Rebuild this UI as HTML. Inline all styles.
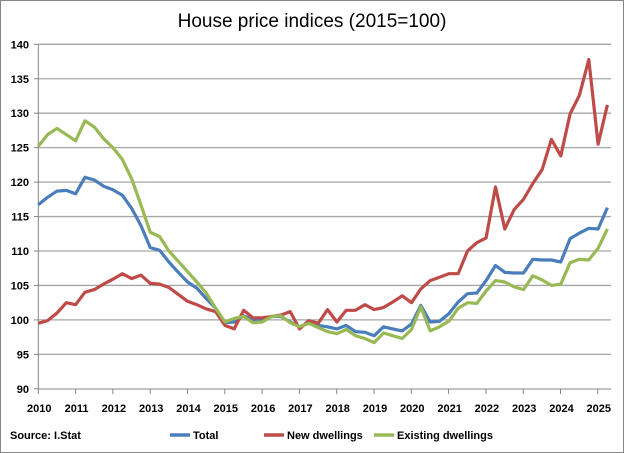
<!DOCTYPE html>
<html><head><meta charset="utf-8"><style>
body{margin:0;background:#fff}
svg{display:block;font-family:"Liberation Sans",sans-serif}
</style></head><body>
<svg id="c" width="624" height="453" viewBox="0 0 624 453" xmlns="http://www.w3.org/2000/svg">
<rect x="0.5" y="0.5" width="623" height="452" fill="#fff" stroke="#868686"/>
<text x="312" y="27" text-anchor="middle" font-size="19" fill="#000">House price indices (2015=100)</text>
<g id="grid"></g>
<g id="lines" fill="none" stroke-width="3.2" stroke-linejoin="round"></g>
<g font-size="11" font-weight="bold" fill="#000">
<text x="10" y="439">Source: I.Stat</text>
<line x1="170" y1="435" x2="190" y2="435" stroke="#4a7ebb" stroke-width="3.5"/>
<text x="193" y="439">Total</text>
<line x1="264" y1="435" x2="284" y2="435" stroke="#be4b48" stroke-width="3.5"/>
<text x="287" y="439">New dwellings</text>
<line x1="374" y1="435" x2="394" y2="435" stroke="#98b954" stroke-width="3.5"/>
<text x="397" y="439">Existing dwellings</text>
</g>
</svg>
<script>
const NS="http://www.w3.org/2000/svg";
const y=v=>44.3+(140-v)*6.89, x=i=>38.3+9.33*i;
const g=document.getElementById('grid');
function el(t,a,p){const e=document.createElementNS(NS,t);for(const k in a)e.setAttribute(k,a[k]);(p||g).appendChild(e);return e;}
for(let v=90;v<=140;v+=5){
 if(v>90)el('line',{x1:38.3,x2:611,y1:y(v),y2:y(v),stroke:'#a6a6a6','stroke-width':1.3});
 el('line',{x1:34,x2:38.3,y1:y(v),y2:y(v),stroke:'#868686'});
 const t=el('text',{x:29,y:y(v)+4,'text-anchor':'end','font-size':11,'font-weight':'bold'});t.textContent=v;
}
el('line',{x1:38.3,x2:38.3,y1:44.3,y2:389,stroke:'#868686'});
el('line',{x1:38.3,x2:611,y1:389,y2:389,stroke:'#868686'});
for(let k=0;k<=15;k++){const xx=38.3+37.3*k;
 el('line',{x1:xx,x2:xx,y1:389,y2:394,stroke:'#868686'});
 const t=el('text',{x:xx+1,y:412,'text-anchor':'middle','font-size':11,'font-weight':'bold'});t.textContent=2010+k;}
const blue=[116.7,117.8,118.7,118.8,118.3,120.7,120.3,119.4,118.9,118.1,116.2,113.7,110.5,110.1,108.4,106.9,105.5,104.6,103.1,101.7,99.6,99.7,100.6,100.0,99.9,100.5,100.5,99.7,99.0,99.5,99.2,
99.0,98.7,99.2,98.3,98.2,97.7,99.0,98.7,98.4,99.4,102.1,99.7,99.8,100.9,102.6,103.8,103.9,105.7,107.9,106.9,106.8,106.8,108.8,108.7,108.7,108.4,111.8,112.6,113.3,113.2,116.3];
const red=[99.5,99.9,101.0,102.5,102.2,104.0,104.4,105.2,105.9,106.7,106.0,106.5,105.3,105.2,104.7,103.7,102.7,102.2,101.6,101.2,99.2,98.7,101.4,100.3,100.3,100.5,100.7,101.2,98.7,99.9,99.5,
101.5,99.7,101.4,101.4,102.2,101.5,101.8,102.6,103.5,102.5,104.5,105.7,106.2,106.7,106.7,110.0,111.2,111.9,119.3,113.2,116.0,117.5,119.8,121.8,126.2,123.8,129.9,132.6,137.8,125.5,131.2];
const green=[125.2,126.9,127.8,126.9,126.0,128.9,128.0,126.3,125.0,123.3,120.5,116.7,112.7,112.1,110.0,108.5,107.0,105.5,103.9,101.7,99.7,100.2,100.5,99.6,99.7,100.5,100.6,99.6,99.0,99.5,98.9,
98.3,98.0,98.6,97.7,97.3,96.7,98.1,97.7,97.3,98.6,101.9,98.4,99.0,99.8,101.7,102.5,102.4,104.2,105.7,105.5,104.8,104.4,106.4,105.8,105.0,105.2,108.3,108.8,108.7,110.4,113.2];
const L=document.getElementById('lines');
[[blue,'#4a7ebb'],[red,'#be4b48'],[green,'#98b954']].forEach(([d,c])=>{
 el('polyline',{points:d.map((v,i)=>x(i).toFixed(1)+','+y(v).toFixed(1)).join(' '),stroke:c},L);});
</script>
</body></html>
